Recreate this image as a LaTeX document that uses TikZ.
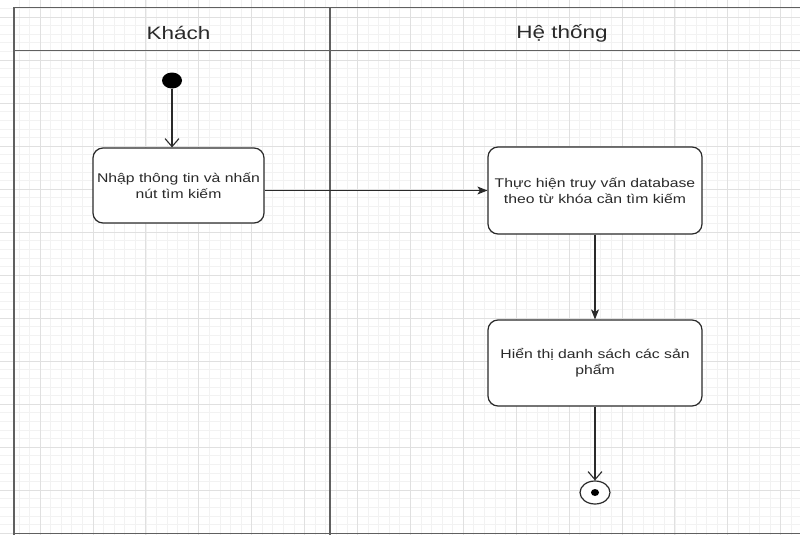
\documentclass[tikz,border=0pt]{standalone}
\usepackage{fontspec}
\usetikzlibrary{arrows.meta,shapes.geometric}
\newfontfamily\lanefont[FakeStretch=1.25]{Liberation Sans}
\definecolor{gridMajorColor}{HTML}{E0E0E0}
\definecolor{gridMinorColor}{HTML}{F2F2F2}
\definecolor{laneColor}{HTML}{606060}
\definecolor{inkColor}{HTML}{2A2A2A}
\begin{document}
\begin{tikzpicture}
[x=1pt,y=-1pt,
  gridMinor/.style={gridMinorColor,line width=0.6pt},%
  gridMajor/.style={gridMajorColor,line width=0.8pt},
  laneLine/.style={laneColor,line width=1.5pt},
  laneTitle/.style={font=\lanefont\fontsize{18}{20}\selectfont,text=inkColor},
  actionBox/.style={shape=rectangle,rounded corners=10pt,draw=inkColor,
    line width=1.2pt,fill=white,align=center,text=inkColor,inner sep=2pt,
    font=\lanefont\fontsize{12.6}{16}\selectfont},
  lineDecorate/.style={inkColor,line width=1.1pt},
  openTip/.style={-{Straight Barb[length=8pt,width=14pt]}},
  fillTip/.style={-{Stealth[length=10pt,width=8pt,inset=2.5pt]}}]
\useasboundingbox (0,0) rectangle (800,535);
\fill[white] (0,0) rectangle (800,535);
%% background grid
\foreach \k in {-2,...,76} {\draw[gridMinor] ({40+\k*10.58},0) -- ++(0,535);}
\foreach \k in {-2,...,61} {\draw[gridMinor] (0,{17+\k*8.6}) -- ++(800,0);}
\foreach \k in {-1,...,15} {\draw[gridMajor] ({40+\k*52.9},0) -- ++(0,535);}
\foreach \k in {0,...,12} {\draw[gridMajor] (0,{17+\k*43}) -- ++(800,0);}
%% swimlanes
\draw[laneLine] (14,7.5) -- (800,7.5);
\draw[laneLine] (14,50.5) -- (800,50.5);
\draw[laneLine] (14,533.5) -- (800,533.5);
\draw[laneLine] (14,7.5) -- (14,535);
\draw[laneLine] (330,7.5) -- (330,535);
\node (khach) at (178.5,33) [laneTitle] {Khách};
\node (hethong) at (562,33) [laneTitle] {Hệ thống};
%% nodes or vertices
\node (start) at (172,80.5) [shape=ellipse,fill=black,inner sep=0pt,
  minimum width=20pt,minimum height=16pt] {};
\node (nhap) at (178.5,185.5) [actionBox,minimum width=171pt,minimum height=75pt]
  {Nhập thông tin và nhấn\\nút tìm kiếm};
\node (truyvan) at (595,190.5) [actionBox,minimum width=214pt,minimum height=87pt]
  {Thực hiện truy vấn database\\theo từ khóa cần tìm kiếm};
\node (hienthi) at (595,363) [actionBox,minimum width=214pt,minimum height=86pt]
  {Hiển thị danh sách các sản\\phẩm};
\node (ketthuc) at (595,492.5) [shape=ellipse,draw=inkColor,line width=1.2pt,
  fill=white,inner sep=0pt,minimum width=30pt,minimum height=23pt] {};
\node (ketthucDot) at (ketthuc) [shape=ellipse,fill=black,inner sep=0pt,
  minimum width=8pt,minimum height=7pt] {};
%% edges or lines
\path
\foreach \startnode/\endnode/\tip in {
  start/start |- nhap.north/openTip, nhap.east |- truyvan/truyvan/fillTip,
  truyvan/hienthi/fillTip, hienthi/ketthuc/openTip}
{
  (\startnode) edge[lineDecorate,\tip] (\endnode)
};
\end{tikzpicture}
\end{document}
